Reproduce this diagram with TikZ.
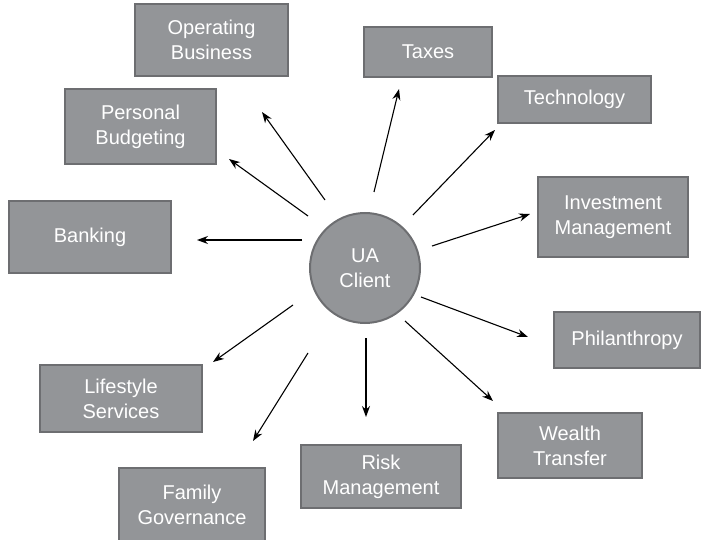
\documentclass[tikz,border=0pt]{standalone}
\usepackage{fontspec}
\setmainfont{Liberation Sans}
\usetikzlibrary{arrows.meta}
\definecolor{boxfill}{HTML}{939598}
\definecolor{boxedge}{HTML}{6D6E71}
\tikzset{
  box/.style={draw=boxedge, fill=boxfill, line width=2pt, text=white,
    font=\fontsize{20}{25}\selectfont, align=center, inner sep=0pt},
  hub/.style={circle, draw=boxedge, fill=boxfill, line width=2pt, text=white,
    font=\fontsize{20}{25}\selectfont, align=center, minimum size=110pt, inner sep=0pt},
  link/.style={line width=1.1pt, -{Stealth[length=11pt,width=8pt]}}
}
\begin{document}
\begin{tikzpicture}[x=1pt,y=-1pt]
\useasboundingbox (0,0) rectangle (702,540);
\node[hub] (c) at (365,268) {UA\\Client};
\node[box, minimum width=153pt, minimum height=72pt] (ops) at (211.5,40) {Operating\\Business};
\node[box, minimum width=128pt, minimum height=50pt] (tax) at (428,52) {Taxes};
\node[box, minimum width=151pt, minimum height=75pt] (pb) at (140.5,126.5) {Personal\\Budgeting};
\node[box, minimum width=153pt, minimum height=47pt] (tech) at (574.5,99.5) {Technology};
\node[box, minimum width=162pt, minimum height=72pt] (bank) at (90,237) {Banking};
\node[box, minimum width=150pt, minimum height=80pt] (inv) at (613,217) {Investment\\Management};
\node[box, minimum width=146pt, minimum height=56pt] (phil) at (627,340) {Philanthropy};
\node[box, minimum width=162pt, minimum height=67pt] (life) at (121,398.5) {Lifestyle\\Services};
\node[box, minimum width=144pt, minimum height=65pt] (wt) at (570,445.5) {Wealth\\Transfer};
\node[box, minimum width=160pt, minimum height=63pt] (risk) at (381,476.5) {Risk\\Management};
\node[box, minimum width=146pt, minimum height=74pt] (fam) at (192,505) {Family\\Governance};

\coordinate (s1) at (325,200); \coordinate (e1) at (262,112);
\coordinate (s2) at (308,216); \coordinate (e2) at (229,159);
\coordinate (s3) at (374,192); \coordinate (e3) at (399,89);
\coordinate (s4) at (413,215); \coordinate (e4) at (495,130);
\coordinate (s5) at (302,240); \coordinate (e5) at (197,240);
\coordinate (s6) at (432,246); \coordinate (e6) at (530,214);
\coordinate (s7) at (421,297); \coordinate (e7) at (528,337);
\coordinate (s8) at (405,321); \coordinate (e8) at (493,401);
\coordinate (s9) at (366,338); \coordinate (e9) at (366,417);
\coordinate (s10) at (308,353); \coordinate (e10) at (253,441);
\coordinate (s11) at (293,305); \coordinate (e11) at (213,362);
\foreach \i in {1,...,11} {\draw[link] (s\i) -- (e\i);}
\end{tikzpicture}
\end{document}
